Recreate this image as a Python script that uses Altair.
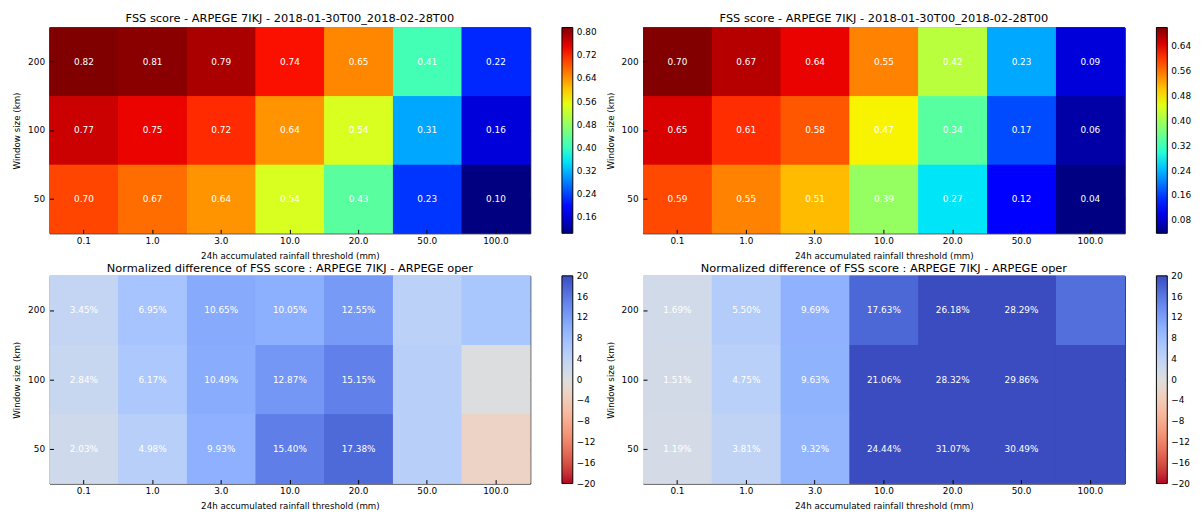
import altair as alt
import numpy as np
import pandas as pd

# ---------------- data ----------------
thresholds = ["0.1", "1.0", "3.0", "10.0", "20.0", "50.0", "100.0"]
windows = ["200", "100", "50"]

fss_left = [
    [0.82, 0.81, 0.79, 0.74, 0.65, 0.41, 0.22],
    [0.77, 0.75, 0.72, 0.64, 0.54, 0.31, 0.16],
    [0.70, 0.67, 0.64, 0.54, 0.43, 0.23, 0.10],
]
fss_right = [
    [0.70, 0.67, 0.64, 0.55, 0.42, 0.23, 0.09],
    [0.65, 0.61, 0.58, 0.47, 0.34, 0.17, 0.06],
    [0.59, 0.55, 0.51, 0.39, 0.27, 0.12, 0.04],
]
diff_left = [
    [3.45, 6.95, 10.65, 10.05, 12.55, 4.5, 6.5],
    [2.84, 6.17, 10.49, 12.87, 15.15, 5.0, 0.2],
    [2.03, 4.98, 9.93, 15.40, 17.38, 5.0, -2.5],
]
diff_left_shown = [
    [1, 1, 1, 1, 1, 0, 0],
    [1, 1, 1, 1, 1, 0, 0],
    [1, 1, 1, 1, 1, 0, 0],
]
diff_right = [
    [1.69, 5.50, 9.69, 17.63, 26.18, 28.29, 16.8],
    [1.51, 4.75, 9.63, 21.06, 28.32, 29.86, 32.0],
    [1.19, 3.81, 9.32, 24.44, 31.07, 30.49, 34.0],
]
diff_right_shown = [
    [1, 1, 1, 1, 1, 1, 0],
    [1, 1, 1, 1, 1, 1, 0],
    [1, 1, 1, 1, 1, 1, 0],
]

cbar_ticks_left = [0.16, 0.24, 0.32, 0.40, 0.48, 0.56, 0.64, 0.72, 0.80]
cbar_ticks_right = [0.08, 0.16, 0.24, 0.32, 0.40, 0.48, 0.56, 0.64]
cbar_ticks_diff = [-20, -16, -12, -8, -4, 0, 4, 8, 12, 16, 20]
cbar_range_left = [0.104, 0.816]
cbar_range_right = [0.038, 0.701]
cbar_range_diff = [-20.001, 20.001]

title_fss = "FSS score - ARPEGE 7IKJ - 2018-01-30T00_2018-02-28T00"
title_diff = "Normalized difference of FSS score : ARPEGE 7IKJ - ARPEGE oper"
x_title = "24h accumulated rainfall threshold (mm)"
y_title = "Window size (km)"

# ---------------- colormaps ----------------
JET = {
    "r": [(0, 0), (0.35, 0), (0.66, 1), (0.89, 1), (1, 0.5)],
    "g": [(0, 0), (0.125, 0), (0.375, 1), (0.64, 1), (0.91, 0), (1, 0)],
    "b": [(0, 0.5), (0.11, 1), (0.34, 1), (0.65, 0), (1, 0)],
}


def jet_stops():
    ts = sorted({p[0] for ch in JET.values() for p in ch})
    cols = []
    for t in ts:
        rgb = []
        for ch in ("r", "g", "b"):
            xs = [p[0] for p in JET[ch]]
            ys = [p[1] for p in JET[ch]]
            rgb.append(float(np.interp(t, xs, ys)))
        cols.append("#%02x%02x%02x" % tuple(int(round(c * 255)) for c in rgb))
    return ts, cols


COOLWARM = ["#3b4cc0", "#4d68d7", "#6282ea", "#779af7", "#8db0fe", "#a2c1ff",
            "#b7cff9", "#cad8ef", "#dddddd", "#ecd3c5", "#f5c4ac", "#f7b194",
            "#f49a7b", "#ec7f63", "#de604d", "#cb3e38", "#b40426"]


def jet_scale(lo, hi):
    ts, cols = jet_stops()
    dom = [lo + t * (hi - lo) for t in ts]
    return alt.Scale(domain=dom, range=cols, interpolate="rgb", clamp=True)


def diff_scale(lo, hi):
    cols = COOLWARM[::-1]
    n = len(cols)
    dom = [lo + i * (hi - lo) / (n - 1) for i in range(n)]
    return alt.Scale(domain=dom, range=cols, interpolate="rgb", clamp=True)


# ---------------- frames ----------------
def frame(values, shown=None, pct=False):
    rows = []
    for i, w in enumerate(windows):
        for j, t in enumerate(thresholds):
            v = values[i][j]
            if pct:
                lab = ("%.2f%%" % v) if shown[i][j] else ""
            else:
                lab = "%.2f" % v
            rows.append({"thr": t, "win": w, "val": v, "label": lab})
    return pd.DataFrame(rows)


FONT = "DejaVu Sans"


def panel(df, title, scale_fn, rng, ticks, fmt, w, h, title_offset):
    xs = alt.Scale(domain=thresholds, paddingInner=0, paddingOuter=0)
    ys = alt.Scale(domain=windows, paddingInner=0, paddingOuter=0)
    base = alt.Chart(df)
    color = alt.Color("val:Q", scale=scale_fn(*rng),
                      legend=alt.Legend(title=None, values=ticks, format=fmt,
                                        orient="right", direction="vertical",
                                        gradientLength=h, gradientThickness=11,
                                        gradientStrokeColor="black",
                                        gradientStrokeWidth=1, offset=31,
                                        labelOverlap=False, labelOffset=4,
                                        labelExpr="replace(datum.label, '-', '\u2212')"))
    rect = base.mark_rect().encode(
        x=alt.X("thr:N", scale=xs, sort=thresholds,
                axis=alt.Axis(title=x_title, orient="bottom", labelAngle=0,
                              offset=-4, tickSize=4, labelPadding=3,
                              titlePadding=6)),
        y=alt.Y("win:N", scale=ys, sort=windows,
                axis=alt.Axis(title=y_title, orient="left", offset=-4,
                              tickSize=4, labelPadding=5, titlePadding=6)),
        color=color,
    )
    # repeated fills hide anti-aliasing seams between adjacent cells
    rect2 = base.mark_rect().encode(
        x=alt.X("thr:N", scale=xs, sort=thresholds, axis=None),
        y=alt.Y("win:N", scale=ys, sort=windows, axis=None),
        color=color,
    )
    text = base.mark_text(color="white", fontSize=9, font=FONT).encode(
        x=alt.X("thr:N", scale=xs, sort=thresholds,
                axis=alt.Axis(title=None, orient="top", labels=False,
                              offset=-4, tickSize=4)),
        y=alt.Y("win:N", scale=ys, sort=windows,
                axis=alt.Axis(title=None, orient="right", labels=False,
                              offset=-4, tickSize=4)),
        text="label:N",
    )
    return (
        alt.layer(rect, rect2, rect2, text)
        .resolve_axis(x="independent", y="independent")
        .properties(width=w, height=h,
                    title=alt.TitleParams(title, fontSize=11.5, font=FONT,
                                          fontWeight="normal", color="black",
                                          offset=title_offset, anchor="middle"))
    )


p1 = panel(frame(fss_left), title_fss, jet_scale, cbar_range_left,
           cbar_ticks_left, ".2f", 486, 208, 3)
p2 = panel(frame(fss_right), title_fss, jet_scale, cbar_range_right,
           cbar_ticks_right, ".2f", 487, 208, 3)
p3 = panel(frame(diff_left, diff_left_shown, True), title_diff,
           diff_scale, cbar_range_diff, cbar_ticks_diff, "d", 486, 210, 1)
p4 = panel(frame(diff_right, diff_right_shown, True), title_diff,
           diff_scale, cbar_range_diff, cbar_ticks_diff, "d", 487, 210, 1)

chart = (
    alt.concat(p1, p2, p3, p4, columns=2, spacing={"row": 43, "column": 114},
               bounds="flush")
    .resolve_scale(color="independent")
    .properties(padding={"left": 4, "top": 1, "right": 0, "bottom": 0})
    .configure_view(stroke="black", strokeWidth=1)
    .configure_axis(labelFont=FONT, titleFont=FONT, labelFontSize=9,
                    titleFontSize=8.8, labelColor="black", titleColor="black",
                    titleFontWeight="normal", domain=False, grid=False,
                    tickColor="black", tickWidth=1)
    .configure_legend(labelFont=FONT, labelFontSize=9, labelColor="black")
)

chart.save("out.html", embed_options={"renderer": "svg", "actions": False})
